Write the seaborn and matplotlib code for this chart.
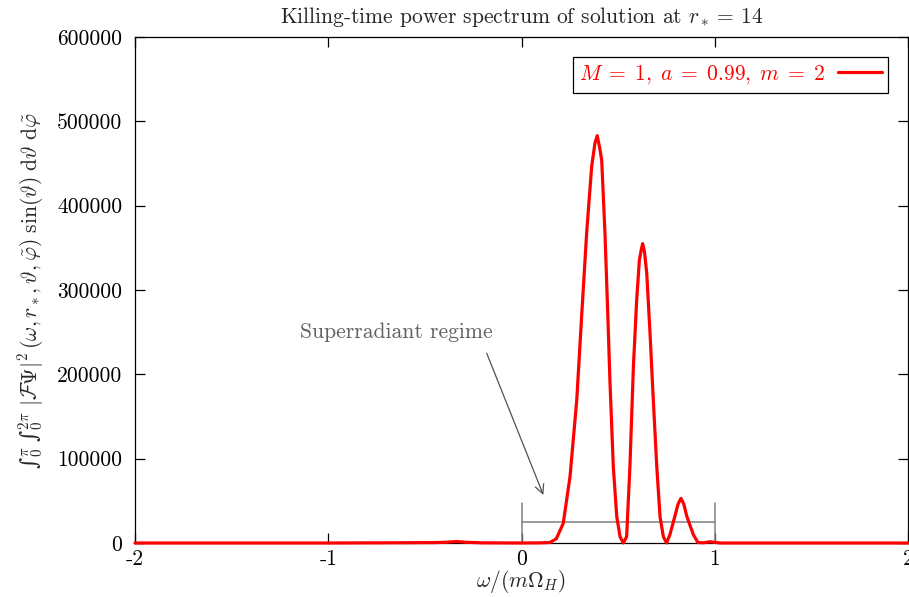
import numpy as np
import pandas as pd
import seaborn as sns
import matplotlib
matplotlib.use("Agg")
import matplotlib.pyplot as plt

# ---- data ----
omega = [-2.0, -1.0, -0.6, -0.45, -0.38, -0.335, -0.29, -0.2, 0.0, 0.1, 0.147, 0.18,
         0.216, 0.251, 0.286, 0.311, 0.337, 0.363, 0.38, 0.392, 0.405, 0.415, 0.432,
         0.444, 0.458, 0.475, 0.493, 0.510, 0.527, 0.544, 0.561, 0.579, 0.596, 0.610,
         0.620, 0.627, 0.636, 0.648, 0.665, 0.682, 0.700, 0.717, 0.734, 0.751, 0.768,
         0.794, 0.810, 0.825, 0.840, 0.855, 0.889, 0.913, 0.945, 0.975, 1.0, 1.03,
         1.2, 2.0]
power = [0, 0, 300, 500, 1000, 1800, 900, 200, 0, 200, 600, 5000,
         23300, 78600, 169600, 268300, 367200, 446200, 474000, 483000, 468000, 454000, 367000,
         288000, 190000, 90500, 31000, 7500, 0, 7500, 90500, 209000, 288000, 335600,
         348000, 355000, 346000, 320000, 249000, 169600, 90500, 31000, 7500, 0, 10000,
         32000, 46000, 53000, 46000, 32000, 10000, 500, 300, 1500, 700, 0,
         0, 0]
series_label = r"$M\;=\;1,\;a\;=\;0.99,\;m\;=\;2$"
xticks = [-2, -1, 0, 1, 2]
xtick_labels = ["-2", "-1", "0", "1", "2"]
yticks = [0, 100000, 200000, 300000, 400000, 500000, 600000]
ytick_labels = ["0", "100000", "200000", "300000", "400000", "500000", "600000"]
regime_range = [0.0, 1.0]
regime_bar_y = 25000
regime_cap_top = 48000
annot_text = "Superradiant regime"
annot_text_xy = (-0.65, 250000)
annot_start = (-0.18, 225000)
annot_end = (0.113, 57000)

df = pd.DataFrame({"omega": omega, "power": power, "series": series_label})

sns.set_theme(style="ticks")
plt.rcParams["font.family"] = ["cmr10", "DejaVu Serif"]
plt.rcParams["mathtext.fontset"] = "cm"
plt.rcParams["axes.unicode_minus"] = False
plt.rcParams["axes.formatter.use_mathtext"] = True

FS = 15.5
fig = plt.figure(figsize=(9.09, 5.97), dpi=100)
ax = fig.add_axes([135/909, 1 - 543/597, (908-135)/909, (543-37)/597])

sns.lineplot(data=df, x="omega", y="power", hue="series", palette=["#ff0000"],
             linewidth=2.3, ax=ax, estimator=None, sort=False, zorder=5)
for ln in ax.lines:
    ln.set_clip_on(False)

# superradiant bracket
gray = "#808080"
ax.plot(regime_range, [regime_bar_y, regime_bar_y], color=gray, lw=1.1, zorder=3)
for xv in regime_range:
    ax.plot([xv, xv], [0, regime_cap_top], color=gray, lw=1.1, zorder=3)

ax.annotate("", xy=annot_end, xytext=annot_start,
            arrowprops=dict(arrowstyle="->", color="#505050", lw=0.9,
                            mutation_scale=16, shrinkA=0, shrinkB=0))
ax.text(annot_text_xy[0], annot_text_xy[1], annot_text, color="#606060",
        fontsize=FS, ha="center", va="center")

ax.set_xlim(-2, 2)
ax.set_ylim(0, 600000)
ax.set_xticks(xticks)
ax.set_xticklabels(xtick_labels)
ax.set_yticks(yticks)
ax.set_yticklabels(ytick_labels)
ax.tick_params(direction="in", length=7, width=0.9, top=True, right=True,
               labelsize=FS, colors="black")
ax.tick_params(axis="y", pad=9)
ax.tick_params(axis="x", pad=5)
for sp in ax.spines.values():
    sp.set_visible(True)
    sp.set_color("black")
    sp.set_linewidth(0.9)

ax.set_title(r"Killing-time power spectrum of solution at $r_*=\:14$",
             fontsize=FS, pad=10)
ax.set_xlabel(r"$\omega/(m\Omega_H)$", fontsize=FS, labelpad=-1)
ylab = ("\u222b" + r"${}_0^{\pi}\;$" + "\u222b" +
        r"${}_0^{2\pi}\ |\mathcal{F}\Psi|^2\,(\omega, r_*, \vartheta, \tilde{\varphi})\ \sin(\vartheta)\ \mathrm{d}\vartheta\ \mathrm{d}\tilde{\varphi}$")
ax.set_ylabel(ylab, fontsize=FS, labelpad=8, family="DejaVu Serif")

leg = ax.legend(loc="upper right", bbox_to_anchor=(1 - 20/773, 1 - 20/506),
                borderaxespad=0, frameon=True, fancybox=False, framealpha=1,
                edgecolor="black", markerfirst=False, handlelength=2.0,
                fontsize=FS, borderpad=0.3, handletextpad=0.6, title=None)
leg.get_frame().set_linewidth(0.9)
for t in leg.get_texts():
    t.set_color("#ff0000")

fig.savefig("out.png", dpi=100)
